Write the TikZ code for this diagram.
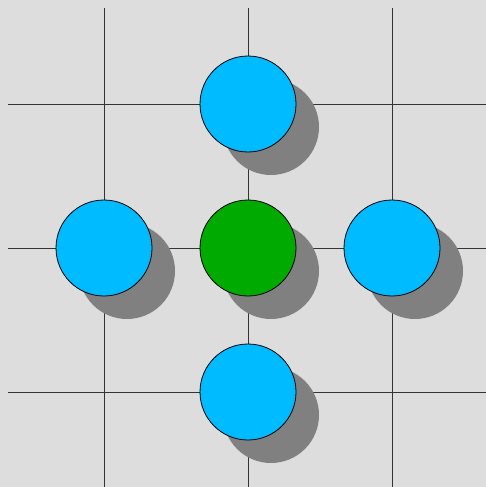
\documentclass[tikz,border=0pt]{standalone}
\definecolor{bg}{HTML}{DDDDDD}
\definecolor{shade}{HTML}{808080}
\definecolor{sky}{HTML}{00BBFF}
\definecolor{leaf}{HTML}{00AA00}
\definecolor{gridc}{HTML}{333333}
\tikzset{
  gridline/.style={draw=gridc, line width=0.9pt},
  disc/.style={circle, draw=black, line width=0.8pt, minimum size=96pt, inner sep=0pt},
  shadowdisc/.style={circle, fill=shade, minimum size=96pt, inner sep=0pt}
}
\begin{document}
\begin{tikzpicture}[x=1pt,y=-1pt]
\fill[bg] (0,0) rectangle (486,487);
\useasboundingbox (0,0) rectangle (486,487);
% grid
\coordinate (h1a) at (8,104); \coordinate (h1b) at (486,104);
\coordinate (h2a) at (8,248); \coordinate (h2b) at (486,248);
\coordinate (h3a) at (8,392); \coordinate (h3b) at (486,392);
\coordinate (v1a) at (104,8); \coordinate (v1b) at (104,487);
\coordinate (v2a) at (248,8); \coordinate (v2b) at (248,487);
\coordinate (v3a) at (392,8); \coordinate (v3b) at (392,487);
\draw[gridline] (h1a) -- (h1b);
\draw[gridline] (h2a) -- (h2b);
\draw[gridline] (h3a) -- (h3b);
\draw[gridline] (v1a) -- (v1b);
\draw[gridline] (v2a) -- (v2b);
\draw[gridline] (v3a) -- (v3b);
% shadows
\node[shadowdisc] (sN) at (271,127) {};
\node[shadowdisc] (sW) at (127,271) {};
\node[shadowdisc] (sC) at (271,271) {};
\node[shadowdisc] (sE) at (415,271) {};
\node[shadowdisc] (sS) at (271,415) {};
% discs
\node[disc, fill=sky] (N) at (248,104) {};
\node[disc, fill=sky] (W) at (104,248) {};
\node[disc, fill=leaf] (C) at (248,248) {};
\node[disc, fill=sky] (E) at (392,248) {};
\node[disc, fill=sky] (S) at (248,392) {};
\end{tikzpicture}
\end{document}
